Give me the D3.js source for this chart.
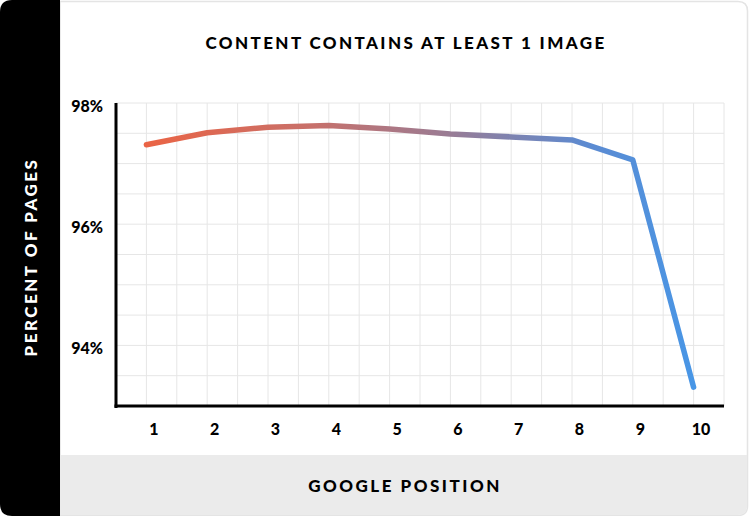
<!DOCTYPE html>
<html>
<head>
<meta charset="utf-8">
<script src="https://cdn.jsdelivr.net/npm/d3@7"></script>
<style>
  html, body { margin: 0; padding: 0; background: #ffffff; }
  svg { display: block; }
  text { font-family: Lato, "Open Sans", sans-serif; font-weight: 900; }
</style>
</head>
<body>
<svg id="chart" width="750" height="516"></svg>
<script>
const positions = [1, 2, 3, 4, 5, 6, 7, 8, 9, 10];
const percentValues = [97.31, 97.51, 97.60, 97.63, 97.57, 97.49, 97.44, 97.39, 97.06, 93.31];
const yTickValues = [94, 96, 98];
const yTickLabels = ["94%", "96%", "98%"];
const titleText = "CONTENT CONTAINS AT LEAST 1 IMAGE";
const xTitleText = "GOOGLE POSITION";
const yTitleText = "PERCENT OF PAGES";

const W = 750, H = 516;
const svg = d3.select("#chart");

// card background
svg.append("path")
  .attr("d", "M60,1.5 H738 Q747.5,1.5 747.5,11 V506 Q747.5,515.5 738,515.5 H60 Z")
  .attr("fill", "#ffffff").attr("stroke", "#e4e4e4").attr("stroke-width", 1.5);
svg.append("path")
  .attr("d", "M61,455 H747 V506 Q747,515 738,515 H61 Z")
  .attr("fill", "#ebebeb");
// black side band
svg.append("path")
  .attr("d", "M12,0 H60 V516 H12 Q0,516 0,504 V12 Q0,0 12,0 Z")
  .attr("fill", "#000000");

const x = d3.scaleLinear().domain([0.5, 10.5]).range([116, 724]);
const y = d3.scaleLinear().domain([93, 98]).range([406, 103]);

// grid
const gridX = d3.range(0.5, 10.51, 0.5);
const gridY = d3.range(93, 98.01, 0.5);
svg.append("g").selectAll("line").data(gridX).join("line")
  .attr("x1", d => x(d)).attr("x2", d => x(d))
  .attr("y1", y(98)).attr("y2", y(93))
  .attr("stroke", "#e6e6e6").attr("stroke-width", 1);
svg.append("g").selectAll("line").data(gridY).join("line")
  .attr("x1", x(0.5)).attr("x2", x(10.5))
  .attr("y1", d => y(d)).attr("y2", d => y(d))
  .attr("stroke", "#e6e6e6").attr("stroke-width", 1);

// axes lines
svg.append("line").attr("x1", x(0.5)).attr("x2", x(0.5))
  .attr("y1", y(98)).attr("y2", y(93) + 2)
  .attr("stroke", "#000").attr("stroke-width", 3);
svg.append("line").attr("x1", x(0.5) - 1.5).attr("x2", x(10.5))
  .attr("y1", y(93)).attr("y2", y(93))
  .attr("stroke", "#000").attr("stroke-width", 3);

// x tick labels via axis
const xAxis = d3.axisBottom(x).tickValues(positions).tickSize(0).tickPadding(0);
const gx = svg.append("g").attr("transform", `translate(7,${y(93)})`).call(xAxis);
gx.select(".domain").remove();
gx.selectAll("text")
  .attr("y", 29).attr("dy", 0)
  .attr("fill", "#000").style("font-size", "16px").style("font-family", "Lato, sans-serif").style("font-weight", 900);

// y tick labels via axis
const yAxis = d3.axisLeft(y).tickValues(yTickValues).tickFormat((d, i) => yTickLabels[i]).tickSize(0).tickPadding(0);
const gy = svg.append("g").attr("transform", `translate(103,3)`).call(yAxis);
gy.select(".domain").remove();
gy.selectAll("text")
  .attr("fill", "#000").style("font-size", "16px").style("font-family", "Lato, sans-serif").style("font-weight", 900);

// gradient
const defs = svg.append("defs");
const grad = defs.append("linearGradient").attr("id", "lineGrad")
  .attr("gradientUnits", "userSpaceOnUse")
  .attr("x1", x(1)).attr("x2", x(10)).attr("y1", 0).attr("y2", 0);
grad.append("stop").attr("offset", "0%").attr("stop-color", "#ea6445");
grad.append("stop").attr("offset", "30%").attr("stop-color", "#c8706a");
grad.append("stop").attr("offset", "55%").attr("stop-color", "#9a7c94");
grad.append("stop").attr("offset", "80%").attr("stop-color", "#5d8ad0");
grad.append("stop").attr("offset", "100%").attr("stop-color", "#4896e6");

const line = d3.line().x((d, i) => x(positions[i])).y(d => y(d));
svg.append("path").datum(percentValues)
  .attr("d", line)
  .attr("fill", "none")
  .attr("stroke", "url(#lineGrad)")
  .attr("stroke-width", 5.5)
  .attr("stroke-linecap", "round")
  .attr("stroke-linejoin", "round");

// titles
svg.append("text").attr("x", 406).attr("y", 49)
  .attr("text-anchor", "middle").attr("fill", "#000")
  .style("font-size", "17px").style("letter-spacing", "2.4px")
  .text(titleText);
svg.append("text").attr("x", 405).attr("y", 492)
  .attr("text-anchor", "middle").attr("fill", "#000")
  .style("font-size", "17px").style("letter-spacing", "2.5px")
  .text(xTitleText);
svg.append("text").attr("transform", "translate(37,257) rotate(-90)")
  .attr("text-anchor", "middle").attr("fill", "#fff")
  .style("font-size", "17px").style("letter-spacing", "2.5px")
  .text(yTitleText);
</script>
</body>
</html>
